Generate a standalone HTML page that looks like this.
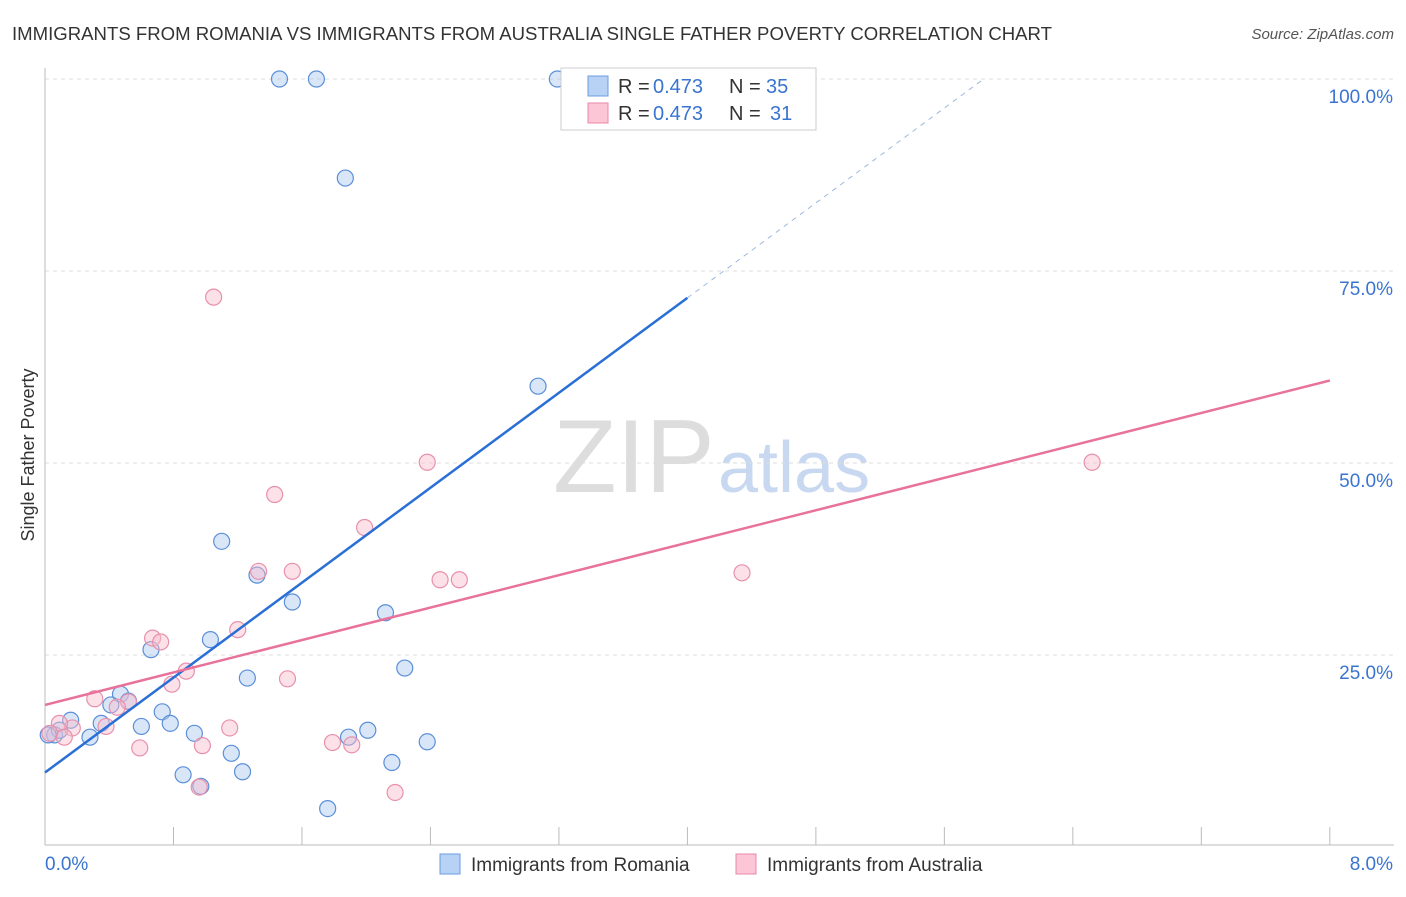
<!DOCTYPE html>
<html><head><meta charset="utf-8"><style>
body{margin:0;background:#fff;font-family:"Liberation Sans",sans-serif}
svg text{font-family:"Liberation Sans",sans-serif}
</style></head><body>
<svg width="1406" height="892" xmlns="http://www.w3.org/2000/svg">
<text x="12" y="40" font-size="18" fill="#333" textLength="1040" lengthAdjust="spacingAndGlyphs">IMMIGRANTS FROM ROMANIA VS IMMIGRANTS FROM AUSTRALIA SINGLE FATHER POVERTY CORRELATION CHART</text>
<text x="1394" y="39" font-size="15" fill="#555" font-style="italic" text-anchor="end">Source: ZipAtlas.com</text>
<text x="34" y="455" font-size="18" fill="#333" text-anchor="middle" transform="rotate(-90 34 455)">Single Father Poverty</text>
<text x="553" y="492" font-size="104" fill="#ddd" font-family="Liberation Serif">ZIP</text>
<text x="718" y="492" font-size="72" fill="#c8d8f0">atlas</text>
<g id="grid"></g><g id="axes"></g><g id="marks"></g>
<g>
<rect x="561" y="68" width="255" height="62" fill="#fff" stroke="#ccc"/>
<rect x="588" y="76" width="20" height="20" fill="#b8d2f5" stroke="#6a9be0"/>
<rect x="588" y="103" width="20" height="20" fill="#fcc6d6" stroke="#e888a8"/>
<text x="618" y="93" font-size="20" fill="#333">R =</text><text x="653" y="93" font-size="20" fill="#3a74d0">0.473</text>
<text x="729" y="93" font-size="20" fill="#333">N =</text><text x="766" y="93" font-size="20" fill="#3a74d0">35</text>
<text x="618" y="120" font-size="20" fill="#333">R =</text><text x="653" y="120" font-size="20" fill="#3a74d0">0.473</text>
<text x="729" y="120" font-size="20" fill="#333">N =</text><text x="770" y="120" font-size="20" fill="#3a74d0">31</text>
</g>
<g>
<rect x="440" y="854" width="20" height="20" fill="#b8d2f5" stroke="#6a9be0"/>
<text x="471" y="871" font-size="19" fill="#333">Immigrants from Romania</text>
<rect x="736" y="854" width="20" height="20" fill="#fcc6d6" stroke="#e888a8"/>
<text x="767" y="871" font-size="19" fill="#333">Immigrants from Australia</text>
</g>
</svg>
<script>
const xTicks=[0,0.8,1.6,2.4,3.2,4.0,4.8,5.6,6.4,7.2,8.0];
const yTicks=[25,50,75,100];
const romX=[1.46,1.69,3.19,1.87,3.07,1.10,1.32,1.54,2.12,1.03,0.66,2.24,1.26,0.47,0.52,0.41,0.73,0.78,0.60,0.35,0.16,0.06,0.28,0.93,1.89,2.01,1.16,2.38,0.86,1.23,0.97,2.16,1.76,0.09,0.02];
const romY=[100,100,100,87.1,60.0,39.8,35.4,31.9,30.5,27.0,25.7,23.3,22.0,19.9,19.0,18.5,17.6,16.1,15.7,16.1,16.5,14.6,14.3,14.8,14.3,15.2,12.2,13.7,9.4,9.8,7.9,11.0,5.0,15.2,14.6];
const ausX=[1.05,2.38,6.52,1.43,1.99,1.33,1.54,2.46,2.58,4.34,1.20,0.67,0.72,0.88,0.79,1.51,0.31,0.52,0.38,0.17,0.09,1.15,0.59,0.98,1.79,1.91,0.96,2.18,0.03,0.12,0.45];
const ausY=[71.6,50.1,50.1,45.9,41.6,35.9,35.9,34.8,34.8,35.7,28.3,27.2,26.7,22.9,21.2,21.9,19.3,18.9,15.7,15.5,16.1,15.5,12.9,13.2,13.6,13.3,7.8,7.1,14.8,14.3,18.2];
const romLine=[9.7,15.45];
const ausLine=[18.5,5.28];
const X=v=>45+v*160.6, Y=v=>847-v*7.68;
const NS="http://www.w3.org/2000/svg";
function mk(p,t,a){const e=document.createElementNS(NS,t);for(const k in a)e.setAttribute(k,a[k]);p.appendChild(e);return e;}
const grid=document.getElementById('grid'),axes=document.getElementById('axes'),marks=document.getElementById('marks');
yTicks.forEach(v=>{const l=mk(grid,'line',{x1:45,x2:1394,y1:Y(v),y2:Y(v),stroke:'#ddd','stroke-dasharray':'4,4'});


const t=mk(axes,'text',{x:1393,y:Y(v)+24,'font-size':19,fill:'#3a74d0','text-anchor':'end'});t.textContent=v.toFixed(1)+'%';

});
mk(axes,'line',{x1:45,x2:45,y1:68,y2:845,stroke:'#bbb'});
mk(axes,'line',{x1:45,x2:1394,y1:845,y2:845,stroke:'#bbb'});
xTicks.forEach(v=>{const l=mk(axes,'line',{x1:X(v),x2:X(v),y1:827,y2:845,stroke:'#bbb'});

});
let t=mk(axes,'text',{x:45,y:870,'font-size':19,fill:'#3a74d0'});t.textContent='0.0%';


t=mk(axes,'text',{x:1393,y:870,'font-size':19,fill:'#3a74d0','text-anchor':'end'});t.textContent='8.0%';


function dots(xs,ys,fill,stroke,name){xs.forEach((x,i)=>{const c=mk(marks,'circle',{cx:X(x),cy:Y(ys[i]),r:8,fill:fill,'fill-opacity':0.45,stroke:stroke,'stroke-width':1.2});

});}
dots(romX,romY,'#aac8f0','#5b8fd8','romania-point');
dots(ausX,ausY,'#f9bccd','#e890ac','australia-point');
let l=mk(marks,'line',{x1:X(0),y1:Y(romLine[0]),x2:X(4),y2:Y(romLine[0]+4*romLine[1]),stroke:'#2a6fd6','stroke-width':2.5});


const xe=(100-romLine[0])/romLine[1];
l=mk(marks,'line',{x1:X(4),y1:Y(romLine[0]+4*romLine[1]),x2:X(xe),y2:Y(100),stroke:'#9bb8e0','stroke-width':1,'stroke-dasharray':'5,5'});


l=mk(marks,'line',{x1:X(0),y1:Y(ausLine[0]),x2:X(8),y2:Y(ausLine[0]+8*ausLine[1]),stroke:'#e8729a','stroke-width':2.5});


</script>
</body></html>
